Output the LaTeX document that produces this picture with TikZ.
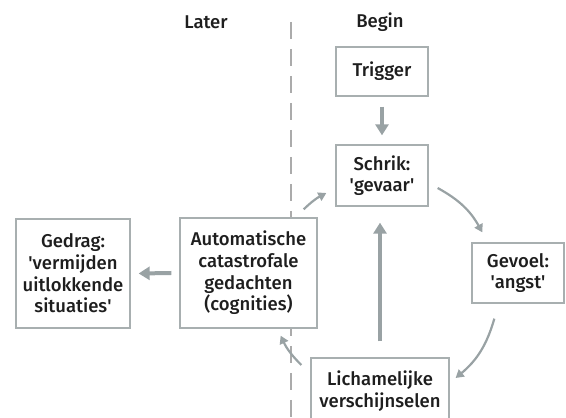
\documentclass[tikz,border=0pt]{standalone}
\usepackage{fontspec}
\setmainfont{Fira Sans}[UprightFont={* Medium}]
\usetikzlibrary{arrows.meta,calc}
\definecolor{boxgray}{HTML}{A8AFB0}
\definecolor{arrgray}{HTML}{99A2A4}
\definecolor{txt}{HTML}{1E1E1E}
\definecolor{dashgray}{HTML}{ABABAB}
\begin{document}
\begin{tikzpicture}[x=1pt,y=1pt,
 box/.style={draw=boxgray, line width=1.3pt, fill=white, text=txt, align=center,
   font=\fontsize{18.5}{21.7}\selectfont, inner sep=0pt},
 bigarrow/.style={draw=arrgray, line width=4pt, -{Triangle[length=11pt,width=13pt]}},
 curvearrow/.style={draw=arrgray, line width=2.2pt, -{Triangle[length=8pt,width=9pt]}},
 lbl/.style={text=txt, font=\fontsize{18.5}{21.7}\selectfont}]
\useasboundingbox (0,0) rectangle (566,418);
\clip (0,0) rectangle (566,418);
\draw[dashgray, line width=1.2pt, dash pattern=on 17pt off 10pt] (291,396) -- (291,0);

\node[lbl] (later) at (206,396) {Later};
\node[lbl] (begin) at (380,396) {Begin};

\node[box, minimum width=92pt, minimum height=49pt] (trig) at (382,346.5) {Trigger};
\node[box, minimum width=92pt, minimum height=61pt] (schrik) at (382,242.5) {Schrik:\\\textquotesingle gevaar\textquotesingle};
\node[box, minimum width=92pt, minimum height=60pt] (gevoel) at (518,145) {Gevoel:\\\textquotesingle angst\textquotesingle};
\node[box, minimum width=138pt, minimum height=66pt] (lich) at (380,27) {Lichamelijke\\verschijnselen};
\node[box, minimum width=137pt, minimum height=110pt] (auto) at (248.5,145) {Automatische\\catastrofale\\gedachten\\(cognities)};
\node[box, minimum width=114pt, minimum height=109pt] (gedrag) at (73,144.5) {Gedrag:\\\textquotesingle vermijden\\uitlokkende\\situaties\textquotesingle};

\draw[bigarrow] ([yshift=-10pt]trig.south) -- ([yshift=9pt]schrik.north);
\draw[bigarrow] ([yshift=16pt]lich.north) -- ([yshift=-16pt]lich.north |- schrik.south);
\draw[bigarrow] ([xshift=-8pt]auto.west) -- ([xshift=8pt]gedrag.east);

\coordinate (a1) at ($(schrik.east)+(9,-12.5)$);
\coordinate (a2) at ($(gevoel.north west)+(11,10)$);
\coordinate (b1) at ($(gevoel.south west)+(23,-15)$);
\coordinate (b2) at ($(lich.east)+(6,13)$);
\coordinate (c1) at ($(lich.west)+(-9,26)$);
\coordinate (c2) at ($(auto.south east)+(-37,-7)$);
\coordinate (d1) at ($(auto.north east)+(-14,8)$);
\coordinate (d2) at ($(schrik.west)+(-9,-17.5)$);
\draw[curvearrow] (a1) to[bend left=16] (a2);
\draw[curvearrow] (b1) to[bend left=17] (b2);
\draw[curvearrow] (c1) to[bend left=10] (c2);
\draw[curvearrow] (d1) to[bend left=8] (d2);
\end{tikzpicture}
\end{document}
